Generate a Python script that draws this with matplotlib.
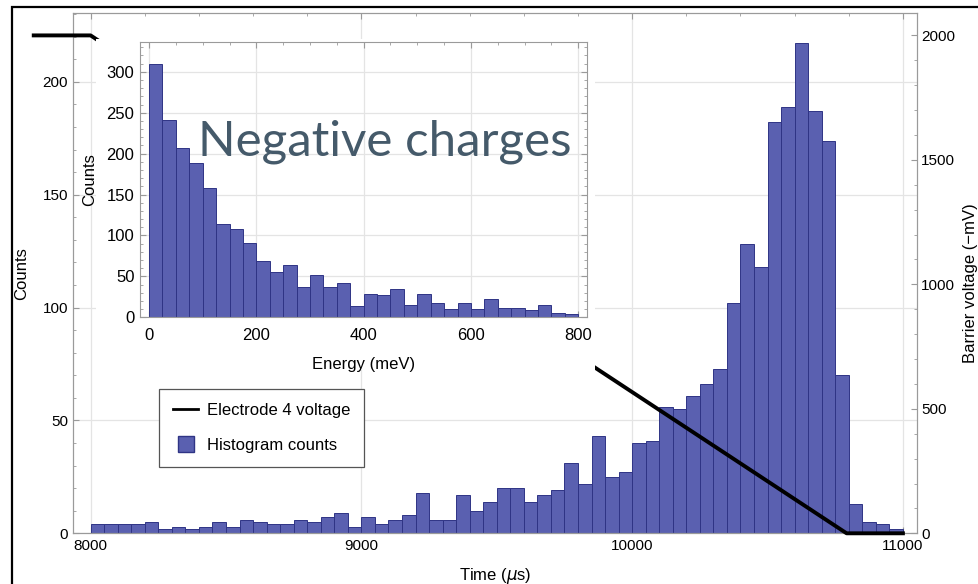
import matplotlib.pyplot as plt
from matplotlib.lines import Line2D
from matplotlib.patches import Rectangle
from matplotlib.ticker import MultipleLocator

# histogram of arrival times (50 us bins from 8000 to 11000)
time_edges = [8000 + 50 * i for i in range(61)]
time_counts = [4, 4, 4, 4, 5, 2, 3, 2, 3, 5, 3, 6, 5, 4, 4, 6, 5, 7, 9, 3,
               7, 4, 6, 8, 18, 6, 6, 17, 10, 14, 20, 20, 14, 17, 19, 31, 22, 43, 25, 27,
               40, 41, 56, 55, 61, 66, 73, 102, 128, 118, 182, 189, 217, 187, 174, 70, 13, 5, 4, 2]

# energy histogram (25 meV bins from 0 to 800)
energy_edges = [25 * i for i in range(33)]
energy_counts = [309, 241, 207, 188, 158, 114, 108, 91, 69, 55, 64, 37, 52, 37, 42, 14,
                 28, 27, 35, 15, 28, 17, 10, 17, 10, 22, 11, 11, 9, 15, 5, 4]

# electrode 4 voltage ramp
volt_t = [7790, 8000, 10792, 11000]
volt_mv = [2000, 2000, 0, 0]

bar_color = '#5a60b0'
edge_color = '#2f3485'
grid_color = '#e4e4e4'
spine_color = '#9a9a9a'

plt.rcParams['font.family'] = ['Liberation Sans', 'DejaVu Sans']

fig = plt.figure(figsize=(9.79, 5.84), dpi=100)

# main axes
ax = fig.add_axes([73 / 979, 1 - 533.3 / 584, 844 / 979, 520.3 / 584])
ax.hist(time_edges[:-1], bins=time_edges, weights=time_counts,
        color=bar_color, edgecolor=edge_color, linewidth=0.7, zorder=2)
ax.set_xlim(7935, 11052)
ax.set_ylim(0, 230.5)
ax.xaxis.set_major_locator(MultipleLocator(1000))
ax.xaxis.set_minor_locator(MultipleLocator(200))
ax.yaxis.set_major_locator(MultipleLocator(50))
ax.yaxis.set_minor_locator(MultipleLocator(10))
ax.grid(True, color=grid_color, linewidth=0.9, zorder=0)
ax.set_axisbelow(True)
ax.tick_params(which='both', direction='in', top=True, right=False,
               color=spine_color, labelsize=11)
ax.tick_params(which='major', length=4)
ax.tick_params(which='minor', length=2.5)
ax.tick_params(axis='x', pad=4)
for s in ax.spines.values():
    s.set_color(spine_color)
    s.set_linewidth(0.8)
ax.set_ylabel('Counts', fontsize=12)
ax.yaxis.set_label_coords(-0.052, 0.5)
ax.set_xlabel('Time ($\\mu$s)', fontsize=12)
ax.xaxis.set_label_coords(0.5, -0.062)

# voltage on right axis
ax2 = ax.twinx()
ax2.plot(volt_t, volt_mv, color='black', linewidth=2.8, clip_on=False, zorder=3)
ax2.set_ylim(0, 2090)
ax2.yaxis.set_major_locator(MultipleLocator(500))
ax2.yaxis.set_minor_locator(MultipleLocator(100))
ax2.tick_params(which='both', direction='in', color=spine_color, labelsize=11, pad=3)
ax2.tick_params(which='major', length=4)
ax2.tick_params(which='minor', length=2.5)
for s in ax2.spines.values():
    s.set_color(spine_color)
    s.set_linewidth(0.8)

handles = [Line2D([], [], color='black', linewidth=2),
           Line2D([], [], marker='s', linestyle='', markersize=11,
                  markerfacecolor=bar_color, markeredgecolor=edge_color)]
leg = ax2.legend(handles, ['Electrode 4 voltage', 'Histogram counts'],
                 loc='lower left', bbox_to_anchor=(0.102, 0.127), borderaxespad=0,
                 fontsize=12, fancybox=False, framealpha=1, edgecolor='#555555',
                 handlelength=1.5, labelspacing=1.2, borderpad=0.85, handletextpad=0.5)
leg.get_frame().set_linewidth(0.9)

# white backdrop of the inset graphic (hides the ramp and grid behind it)
fig.patches.append(Rectangle((96 / 979, 1 - 370 / 584), 499 / 979, 331 / 584,
                             transform=fig.transFigure, facecolor='white',
                             edgecolor='none', zorder=2))

# inset energy histogram
ins = fig.add_axes([140 / 979, 1 - 317.3 / 584, 447.3 / 979, 275 / 584], zorder=5)
ins.set_facecolor('white')
ins.hist(energy_edges[:-1], bins=energy_edges, weights=energy_counts,
         color=bar_color, edgecolor=edge_color, linewidth=0.7, zorder=2)
ins.set_xlim(-16.8, 816.8)
ins.set_ylim(0, 336)
ins.xaxis.set_major_locator(MultipleLocator(200))
ins.xaxis.set_minor_locator(MultipleLocator(50))
ins.yaxis.set_major_locator(MultipleLocator(50))
ins.yaxis.set_minor_locator(MultipleLocator(10))
ins.grid(True, color=grid_color, linewidth=0.9, zorder=0)
ins.set_axisbelow(True)
ins.tick_params(which='both', direction='in', top=True, right=True,
                color=spine_color, labelsize=12)
ins.tick_params(which='major', length=4)
ins.tick_params(which='minor', length=2.5)
ins.tick_params(axis='x', pad=8)
ins.tick_params(axis='y', pad=4)
for s in ins.spines.values():
    s.set_color(spine_color)
    s.set_linewidth(0.8)
ins.set_ylabel('Counts', fontsize=12)
ins.yaxis.set_label_coords(-0.095, 0.5)
ins.set_xlabel('Energy (meV)', fontsize=12)
ins.xaxis.set_label_coords(0.5, -0.145)

# annotation text and right label
fig.text(198 / 979, 1 - 155 / 584, 'Negative charges', fontsize=35.5,
         family=['Lato', 'DejaVu Sans'], color='#455a6a', ha='left', va='baseline', zorder=10)
fig.text(963 / 979, 1 - 283 / 584, 'Barrier voltage (\u2212mV)', fontsize=12,
         rotation=90, ha='left', va='center')

# black frame of the screenshot
fig.patches.append(Rectangle((12.5 / 979, -0.1), 1.1, 1 - 6.5 / 584 + 0.1,
                             transform=fig.transFigure, fill=False,
                             edgecolor='black', linewidth=1.6, zorder=20))

fig.savefig('out.png', dpi=100)
